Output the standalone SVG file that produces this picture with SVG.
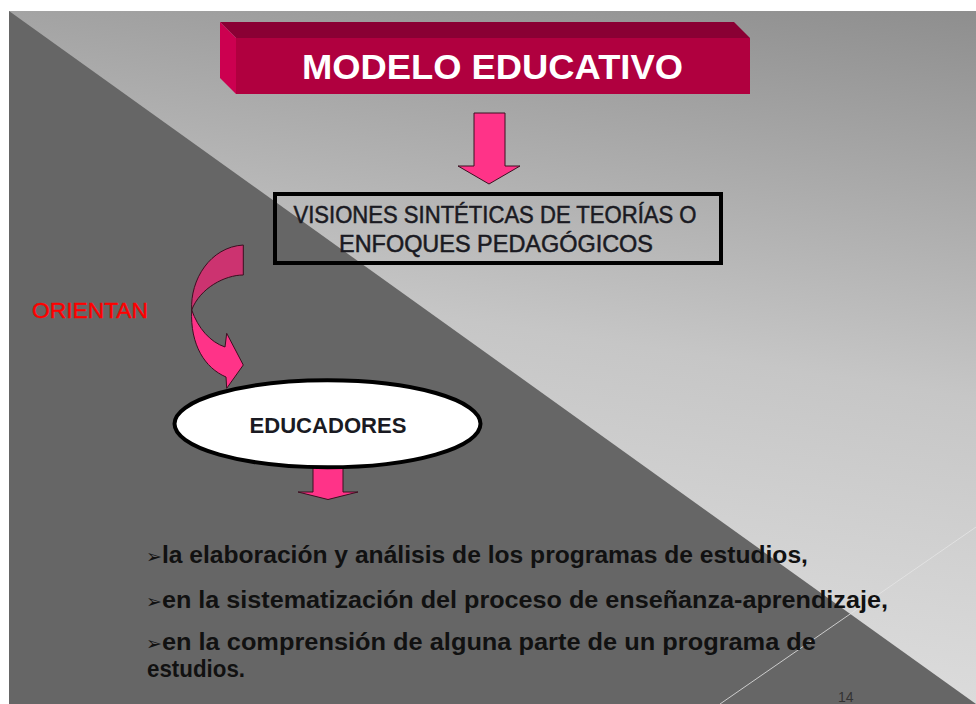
<svg xmlns="http://www.w3.org/2000/svg" width="976" height="704" viewBox="0 0 976 704">
<style>
.t{font-family:"Liberation Sans","DejaVu Sans",sans-serif}
.box{fill:none;stroke:#000;stroke-width:4}
.dark{fill:#1a1a22}
.med{stroke:#1a1a22;stroke-width:0.5}
.arrow{fill:#ff3388;stroke:#3a1020;stroke-width:1}
.bul{font-family:"Liberation Sans","DejaVu Sans",sans-serif;font-size:23px;font-weight:bold;fill:#111}
.mark{font-family:"DejaVu Sans",sans-serif;font-size:19px;font-weight:normal}
</style>
<defs>
<linearGradient id="bg" gradientUnits="userSpaceOnUse" x1="976" y1="10" x2="870" y2="700">
<stop offset="0" stop-color="#8e8e8e"/>
<stop offset="0.55" stop-color="#c6c6c6"/>
<stop offset="1" stop-color="#dcdcdc"/>
</linearGradient>
</defs>
<g id="background">
<rect x="0" y="0" width="976" height="704" fill="#fff"/>
<rect x="9" y="11" width="967" height="693" fill="url(#bg)"/>
<polygon points="9,11 976,704 9,704" fill="#666"/>
<line x1="720" y1="704" x2="976" y2="527" stroke="#e6e6e6" stroke-width="1" opacity="0.8"/>
</g>
<g id="title">
<polygon points="220,22 734,22 750,38 236,38" fill="#8a0034"/>
<polygon points="220,22 236,38 236,94 220,78" fill="#cc0050"/>
<rect x="236" y="38" width="514" height="56" fill="#b0003f"/>
<text class="t" x="492.5" y="79" font-size="35" font-weight="bold" fill="#fff" text-anchor="middle" textLength="381" lengthAdjust="spacingAndGlyphs">MODELO EDUCATIVO</text>
</g>
<g id="visiones">
<rect class="box" x="275" y="194" width="446" height="69"/>
<text class="t dark med" x="495" y="223" font-size="23" text-anchor="middle" textLength="403" lengthAdjust="spacingAndGlyphs">VISIONES SINTÉTICAS DE TEORÍAS O</text>
<text class="t dark med" x="496" y="252" font-size="23" text-anchor="middle" textLength="314" lengthAdjust="spacingAndGlyphs">ENFOQUES PEDAGÓGICOS</text>
</g>
<g id="orientan">
<text class="t" x="32" y="318" font-size="22" fill="#ff0000" stroke="#ff0000" stroke-width="0.4" textLength="116" lengthAdjust="spacingAndGlyphs">ORIENTAN</text>
</g>
<g id="connectors">
<polygon class="arrow" points="474,113 505,113 505,166 520,166 489,184 458,166 474,166"/>
<path d="M243.3,245 L243.3,275 C225,275 200,288 191.7,310 C190,280 210,247 243.3,245 Z" fill="#cc3370" stroke="#3a1020" stroke-width="1"/>
<path class="arrow" d="M191.7,310 C198,328 210,342 225,347 L226.7,333.3 L243.3,365 L226.7,388.3 L226,377 C205,368 190,345 191.7,310 Z"/>
<polygon class="arrow" points="313,462 343,462 343,492 358,492 328,499.5 298,492 313,492"/>
</g>
<g id="educadores">
<ellipse cx="327.5" cy="423.8" rx="153" ry="43.5" fill="#fff" stroke="#000" stroke-width="4"/>
<text class="t dark" x="328" y="433" font-size="22" font-weight="bold" text-anchor="middle" textLength="157" lengthAdjust="spacingAndGlyphs">EDUCADORES</text>
</g>
<g id="bullets">
<text class="bul" x="146" y="563"><tspan class="mark">➢</tspan><tspan textLength="646" lengthAdjust="spacingAndGlyphs">la elaboración y análisis de los programas de estudios,</tspan></text>
<text class="bul" x="146" y="608"><tspan class="mark">➢</tspan><tspan textLength="726" lengthAdjust="spacingAndGlyphs">en la sistematización del proceso de enseñanza-aprendizaje,</tspan></text>
<text class="bul" x="146" y="650"><tspan class="mark">➢</tspan><tspan textLength="654" lengthAdjust="spacingAndGlyphs">en la comprensión de alguna parte de un programa de</tspan></text>
<text class="bul" x="147" y="677" textLength="98" lengthAdjust="spacingAndGlyphs">estudios.</text>
</g>
<g id="page-number">
<text class="t" x="838" y="702" font-size="14" fill="#333">14</text>
</g>
</svg>
